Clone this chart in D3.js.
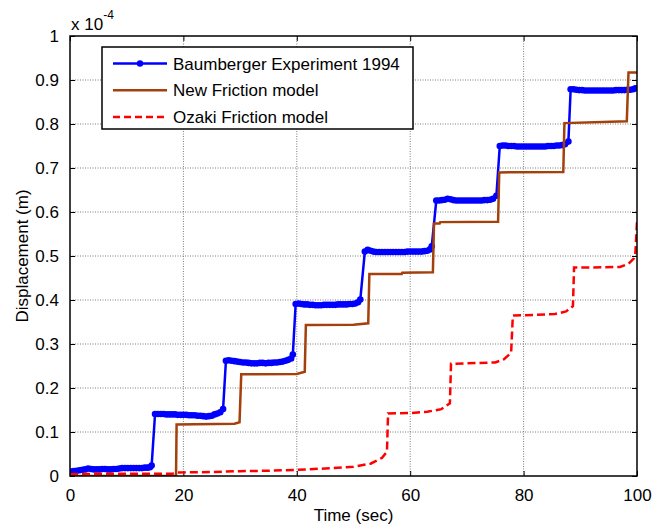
<!DOCTYPE html>
<html>
<head>
<meta charset="utf-8">
<script src="https://cdn.jsdelivr.net/npm/d3@7"></script>
<style>
  html, body { margin: 0; padding: 0; background: #fff; }
  svg { display: block; font-family: "Liberation Sans", Arial, sans-serif; }
</style>
</head>
<body>
<svg id="chart" width="652" height="525"></svg>
<script>
// Time axis (sec) and displacement axis (x 1e-4 m)
const xTicks = [0, 20, 40, 60, 80, 100];
const yTicks = [0, 0.1, 0.2, 0.3, 0.4, 0.5, 0.6, 0.7, 0.8, 0.9, 1];
const yTickLabels = ["0", "0.1", "0.2", "0.3", "0.4", "0.5", "0.6", "0.7", "0.8", "0.9", "1"];

const seriesNames = ["Baumberger Experiment 1994", "New Friction model", "Ozaki Friction model"];

// Baumberger experiment 1994 (measured samples, drawn with markers)
const expTime = [
  0.3, 0.7, 1.2, 1.7, 2.2, 2.7, 3.2, 3.7, 4.2, 4.7, 5.2, 5.7, 6.2, 6.7, 7.2, 7.7, 8.2, 8.7, 9.2, 9.7,
  10.2, 10.7, 11.2, 11.7, 12.2, 12.7, 13.2, 13.7, 14.1, 14.4,
  15, 15.5, 16, 16.5, 17, 17.5, 18, 18.5, 19, 19.5, 20, 20.5, 21, 21.5, 22, 22.5, 23, 23.5, 24, 24.5,
  25, 25.5, 26, 26.5, 27,
  27.5, 28, 28.5, 29, 29.5, 30, 30.5, 31, 31.5, 32, 32.5, 33, 33.5, 34, 34.5, 35, 35.5, 36, 36.5, 37,
  37.5, 38, 38.5, 39, 39.3,
  39.8, 40.3, 40.8, 41.3, 41.8, 42.3, 42.8, 43.3, 43.8, 44.3, 44.8, 45.3, 45.8, 46.3, 46.8, 47.3,
  47.8, 48.3, 48.8, 49.3, 49.8, 50.3, 50.8, 51.2,
  52, 52.5, 53, 53.5, 54, 54.5, 55, 55.5, 56, 56.5, 57, 57.5, 58, 58.5, 59, 59.5, 60, 60.5, 61, 61.5,
  62, 62.5, 63, 63.5, 63.8,
  64.6, 65.1, 65.6, 66.1, 66.6, 67.1, 67.6, 68.1, 68.6, 69.1, 69.6, 70.1, 70.6, 71.1, 71.6, 72.1,
  72.6, 73.1, 73.6, 74.1, 74.6, 75.2,
  75.8, 76.3, 76.8, 77.3, 77.8, 78.3, 78.8, 79.3, 79.8, 80.3, 80.8, 81.3, 81.8, 82.3, 82.8, 83.3,
  83.8, 84.3, 84.8, 85.3, 85.8, 86.3, 86.8, 87.3, 87.9,
  88.3, 88.8, 89.3, 89.8, 90.3, 90.8, 91.3, 91.8, 92.3, 92.8, 93.3, 93.8, 94.3, 94.8, 95.3, 95.8,
  96.3, 96.8, 97.3, 97.8, 98.3, 98.8, 99.3, 99.7
];
const expDisp = [
  0.010, 0.011, 0.012, 0.013, 0.014, 0.015, 0.017, 0.016, 0.015, 0.015, 0.015, 0.016, 0.016, 0.015, 0.015, 0.016, 0.016, 0.017, 0.018, 0.018,
  0.018, 0.018, 0.018, 0.018, 0.018, 0.018, 0.019, 0.019, 0.020, 0.024,
  0.141, 0.141, 0.141, 0.141, 0.140, 0.140, 0.140, 0.140, 0.139, 0.139, 0.139, 0.139, 0.138, 0.138, 0.138, 0.137, 0.137, 0.136, 0.135, 0.136,
  0.137, 0.140, 0.142, 0.145, 0.152,
  0.262, 0.263, 0.262, 0.261, 0.260, 0.259, 0.258, 0.258, 0.257, 0.256, 0.256, 0.256, 0.257, 0.257, 0.256, 0.257, 0.257, 0.258, 0.258, 0.259,
  0.260, 0.262, 0.264, 0.267, 0.276,
  0.391, 0.392, 0.391, 0.390, 0.390, 0.389, 0.389, 0.388, 0.388, 0.388, 0.389, 0.389, 0.389, 0.389, 0.389, 0.390,
  0.390, 0.390, 0.390, 0.391, 0.391, 0.392, 0.395, 0.401,
  0.510, 0.514, 0.512, 0.510, 0.509, 0.509, 0.509, 0.509, 0.509, 0.509, 0.509, 0.509, 0.509, 0.509, 0.509, 0.510, 0.510, 0.510, 0.510, 0.510,
  0.510, 0.511, 0.512, 0.515, 0.522,
  0.626, 0.626, 0.627, 0.628, 0.630, 0.629, 0.627, 0.626, 0.626, 0.626, 0.626, 0.626, 0.626, 0.626, 0.626, 0.626,
  0.626, 0.627, 0.627, 0.628, 0.630, 0.637,
  0.750, 0.751, 0.751, 0.750, 0.750, 0.750, 0.749, 0.749, 0.749, 0.749, 0.749, 0.749, 0.749, 0.749, 0.749, 0.749,
  0.749, 0.750, 0.750, 0.750, 0.751, 0.751, 0.752, 0.754, 0.760,
  0.879, 0.879, 0.878, 0.877, 0.877, 0.876, 0.876, 0.876, 0.876, 0.876, 0.876, 0.876, 0.876, 0.876, 0.876, 0.876,
  0.877, 0.877, 0.877, 0.877, 0.878, 0.878, 0.879, 0.881
];

// New friction model
const newTime = [0, 18.7, 18.8, 29.0, 29.9, 30.2, 40.0, 41.4, 41.6, 50.0, 52.6, 52.8, 58.5, 58.6, 64.0, 64.2,
  65.2, 65.3, 75.5, 75.7, 87.0, 87.2, 98.2, 98.5, 100];
const newDisp = [0, 0, 0.117, 0.119, 0.122, 0.231, 0.232, 0.237, 0.343, 0.344, 0.347, 0.459, 0.459, 0.462, 0.463, 0.574,
  0.574, 0.577, 0.578, 0.690, 0.691, 0.802, 0.806, 0.917, 0.917];

// Ozaki friction model
const ozakiTime = [0, 5, 10, 15, 18, 19, 25, 30, 35, 40, 45, 50, 53, 55, 55.9, 56.1, 60, 63, 65.5, 67.0, 67.2,
  70, 75, 76.5, 77.8, 78.1, 78.3, 82, 85.5, 87.5, 88.7, 88.9, 92, 97, 98.5, 99.5, 99.7, 100];
const ozakiDisp = [0.004, 0.005, 0.005, 0.005, 0.005, 0.008, 0.009, 0.011, 0.012, 0.014, 0.017, 0.021, 0.028, 0.041, 0.055, 0.142,
  0.143, 0.146, 0.152, 0.165, 0.255, 0.256, 0.258, 0.265, 0.280, 0.364, 0.365, 0.366, 0.368, 0.374, 0.386, 0.474,
  0.474, 0.475, 0.482, 0.495, 0.503, 0.578];

const colors = { exp: "#0000ff", newModel: "#a3400b", ozaki: "#ff0000" };

const svg = d3.select("#chart");
const m = { left: 70, right: 637, top: 36, bottom: 476 };

const x = d3.scaleLinear().domain([0, 100]).range([m.left, m.right]);
const y = d3.scaleLinear().domain([0, 1]).range([m.bottom, m.top]);

const fontSize = 17;

// dotted grid
const grid = svg.append("g");
grid.selectAll("line.gx").data(xTicks.slice(1, -1)).enter().append("line")
  .attr("x1", d => x(d)).attr("x2", d => x(d))
  .attr("y1", m.top).attr("y2", m.bottom)
  .attr("stroke", "#7a7a7a").attr("stroke-width", 1).attr("stroke-dasharray", "1,1.5");
grid.selectAll("line.gy").data(yTicks.slice(1, -1)).enter().append("line")
  .attr("x1", m.left).attr("x2", m.right)
  .attr("y1", d => y(d)).attr("y2", d => y(d))
  .attr("stroke", "#7a7a7a").attr("stroke-width", 1).attr("stroke-dasharray", "1,1.5");

// axes with inward ticks on all four sides
const tickLen = 5;
const axBottom = d3.axisBottom(x).tickValues(xTicks).tickSizeInner(-tickLen).tickSizeOuter(0).tickPadding(tickLen + 8);
const axTop = d3.axisTop(x).tickValues(xTicks).tickSizeInner(-tickLen).tickSizeOuter(0).tickFormat("");
const axLeft = d3.axisLeft(y).tickValues(yTicks).tickSizeInner(-tickLen).tickSizeOuter(0)
  .tickPadding(tickLen + 6).tickFormat((d, i) => yTickLabels[i]);
const axRight = d3.axisRight(y).tickValues(yTicks).tickSizeInner(-tickLen).tickSizeOuter(0).tickFormat("");

function styleAxis(g) {
  g.select(".domain").remove();
  g.selectAll(".tick line").attr("stroke", "#000").attr("stroke-width", 1);
  g.selectAll(".tick text").attr("fill", "#000").style("font-size", fontSize + "px")
    .style("font-family", '"Liberation Sans", Arial, sans-serif');
}
svg.append("g").attr("transform", `translate(0,${m.bottom})`).call(axBottom).call(styleAxis);
svg.append("g").attr("transform", `translate(0,${m.top})`).call(axTop).call(styleAxis);
svg.append("g").attr("transform", `translate(${m.left},0)`).call(axLeft).call(styleAxis);
svg.append("g").attr("transform", `translate(${m.right},0)`).call(axRight).call(styleAxis);

// data
svg.append("clipPath").attr("id", "plotclip").append("rect")
  .attr("x", m.left).attr("y", m.top - 4).attr("width", m.right - m.left).attr("height", m.bottom - m.top + 4);

const line = d3.line().x(d => x(d[0])).y(d => y(d[1]));
const expPts = d3.zip(expTime, expDisp);
const newPts = d3.zip(newTime, newDisp);
const ozPts = d3.zip(ozakiTime, ozakiDisp);

const plot = svg.append("g").attr("clip-path", "url(#plotclip)");
plot.append("path").datum(expPts).attr("d", line)
  .attr("fill", "none").attr("stroke", colors.exp).attr("stroke-width", 2.5).attr("stroke-linejoin", "round");
plot.selectAll("circle.exp").data(expPts).enter().append("circle")
  .attr("cx", d => x(d[0])).attr("cy", d => y(d[1])).attr("r", 3.3).attr("fill", colors.exp);
plot.append("path").datum(newPts).attr("d", line)
  .attr("fill", "none").attr("stroke", colors.newModel).attr("stroke-width", 2.5);
plot.append("path").datum(ozPts).attr("d", line)
  .attr("fill", "none").attr("stroke", colors.ozaki).attr("stroke-width", 2.5).attr("stroke-dasharray", "8,4");

// axes box
svg.append("rect").attr("x", m.left).attr("y", m.top)
  .attr("width", m.right - m.left).attr("height", m.bottom - m.top)
  .attr("fill", "none").attr("stroke", "#000").attr("stroke-width", 1.5);

// exponent label
const expo = svg.append("text").attr("x", 71).attr("y", 30).style("font-size", fontSize + "px").attr("fill", "#000");
expo.append("tspan").text("x 10");
expo.append("tspan").attr("dy", -11).style("font-size", "12px").text("-4");

// axis titles
svg.append("text").attr("x", (m.left + m.right) / 2).attr("y", 521).attr("text-anchor", "middle")
  .style("font-size", fontSize + "px").text("Time (sec)");
svg.append("text").attr("transform", `translate(28,${(m.top + m.bottom) / 2}) rotate(-90)`)
  .attr("text-anchor", "middle").style("font-size", fontSize + "px").text("Displacement (m)");

// legend
const lg = svg.append("g");
lg.append("rect").attr("x", 102).attr("y", 47).attr("width", 311).attr("height", 82)
  .attr("fill", "#fff").attr("stroke", "#000").attr("stroke-width", 1.5);
const legendRows = [
  { name: seriesNames[0], color: colors.exp, dash: null, marker: true },
  { name: seriesNames[1], color: colors.newModel, dash: null, marker: false },
  { name: seriesNames[2], color: colors.ozaki, dash: "7,4", marker: false }
];
legendRows.forEach((r, i) => {
  const cy = 63.5 + i * 26.7;
  lg.append("line").attr("x1", 113).attr("x2", 167).attr("y1", cy).attr("y2", cy)
    .attr("stroke", r.color).attr("stroke-width", 2.5).attr("stroke-dasharray", r.dash);
  if (r.marker) lg.append("circle").attr("cx", 140).attr("cy", cy).attr("r", 3.2).attr("fill", r.color);
  lg.append("text").attr("x", 173).attr("y", cy + 6).style("font-size", fontSize + "px").text(r.name);
});
</script>
</body>
</html>
